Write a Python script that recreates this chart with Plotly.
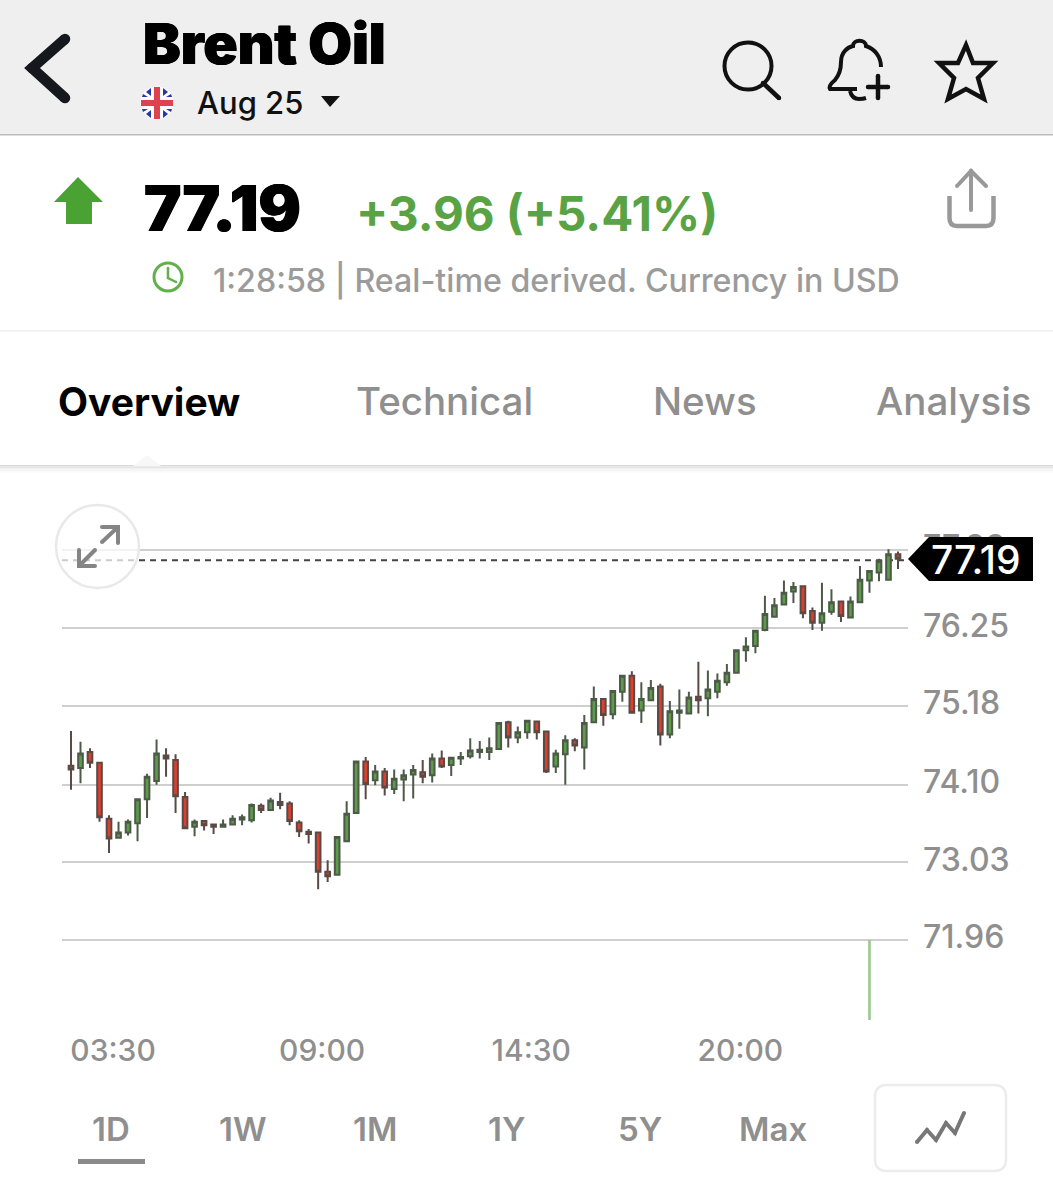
import pandas as pd
import plotly.graph_objects as go

W = 1053
H = 1200

# 15 minute candles
open_prices = [74.36,74.33,74.55,74.40,73.63,73.37,73.44,73.57,73.90,74.15,
  74.50,74.44,73.93,73.52,73.60,73.55,73.52,73.55,73.62,73.61,
  73.81,73.75,73.86,73.84,73.58,73.45,73.44,72.90,72.86,73.32,
  73.71,74.42,74.16,74.28,74.04,74.17,74.24,74.27,74.23,74.46,
  74.37,74.46,74.49,74.55,74.55,74.59,74.96,74.75,74.82,74.97,
  74.83,74.35,74.52,74.71,74.61,74.96,75.28,75.07,75.38,75.60,
  75.12,75.26,75.45,74.79,75.09,75.08,75.31,75.29,75.38,75.51,
  75.64,75.95,76.01,76.23,76.41,76.58,76.76,76.83,76.49,76.33,
  76.48,76.62,76.40,76.61,76.91,77.02,76.92,77.27]
high_prices = [74.84,74.69,74.60,74.40,73.68,73.59,73.62,73.91,74.25,74.72,
  74.60,74.52,74.00,73.62,73.60,73.56,73.62,73.68,73.69,73.84,
  73.84,73.92,73.99,73.87,73.61,73.49,73.44,73.06,73.38,73.87,
  74.43,74.48,74.37,74.33,74.31,74.31,74.37,74.44,74.53,74.57,
  74.47,74.55,74.74,74.70,74.75,74.95,74.98,74.90,74.99,74.98,
  74.83,74.58,74.78,74.74,75.06,75.45,75.29,75.40,75.61,75.66,
  75.51,75.54,75.49,75.25,75.41,75.38,75.79,75.67,75.63,75.76,
  75.96,76.13,76.23,76.70,76.67,76.91,76.89,76.83,76.54,76.88,
  76.79,76.63,76.69,77.11,77.05,77.21,77.34,77.31]
low_prices = [74.03,74.12,74.33,73.59,73.16,73.36,73.40,73.32,73.64,74.10,
  74.21,73.71,73.49,73.39,73.47,73.42,73.51,73.54,73.54,73.58,
  73.71,73.74,73.76,73.54,73.38,73.29,72.66,72.76,72.85,73.31,
  73.70,73.90,74.09,73.95,73.97,73.87,73.91,74.12,74.13,74.33,
  74.22,74.37,74.46,74.46,74.44,74.58,74.61,74.67,74.73,74.72,
  74.26,74.26,74.10,74.56,74.31,74.95,74.91,75.00,75.24,75.08,
  74.95,75.25,74.64,74.74,74.87,75.07,75.08,75.04,75.29,75.46,
  75.63,75.79,75.91,76.21,76.40,76.57,76.60,76.39,76.23,76.22,
  76.44,76.34,76.39,76.60,76.74,76.90,76.91,77.07]
close_prices = [74.31,74.53,74.40,73.65,73.36,73.44,73.59,73.90,74.21,74.53,
  74.46,73.94,73.50,73.59,73.54,73.52,73.55,73.63,73.65,73.82,
  73.75,73.88,73.82,73.60,73.46,73.42,72.90,72.84,73.38,73.70,
  74.42,74.11,74.28,74.06,74.18,74.23,74.30,74.21,74.46,74.35,
  74.47,74.48,74.57,74.58,74.60,74.95,74.75,74.82,74.98,74.82,
  74.28,74.53,74.71,74.64,74.95,75.28,75.06,75.39,75.60,75.09,
  75.28,75.43,74.79,75.11,75.12,75.30,75.26,75.41,75.53,75.64,
  75.95,76.00,76.22,76.45,76.57,76.74,76.82,76.46,76.33,76.46,
  76.61,76.42,76.62,76.92,77.04,77.18,77.27,77.21]
times = pd.date_range("2025-06-12 02:30", periods=len(open_prices), freq="15min")

volume_times = ["2025-06-12 23:30"]
volume_values = [1]

price_ticks = [71.96, 73.03, 74.10, 75.18, 76.25, 77.33]
price_labels = ["71.96", "73.03", "74.10", "75.18", "76.25", "77.33"]
time_ticks = ["2025-06-12 03:30", "2025-06-12 09:00", "2025-06-12 14:30", "2025-06-12 20:00"]
time_labels = ["03:30", "09:00", "14:30", "20:00"]
last_price = 77.19
range_labels = ["1D", "1W", "1M", "1Y", "5Y", "Max"]
range_centers = [111, 243, 375, 507, 640, 773]
tab_labels = ["Overview", "Technical", "News", "Analysis"]
tab_lefts = [58, 356, 653, 876]

FONT = "Inter"
GRAY = "#8f8f8f"
DARK = "#111111"
GREEN = "#5aa344"
HEAVY = "0.6px 0 0 #000, -0.6px 0 0 #000"

def px(x):
  return x / W

def py(y):
  return 1 - y / H

shapes = []
annotations = []

def path(points, close=False, line=None, width=0, fill=None, layer="above"):
  d = "M " + " L ".join(f"{px(x):.5f},{py(y):.5f}" for x, y in points)
  if close:
    d += " Z"
  add_path(d, line, width, fill, layer)

def add_path(d, line=None, width=0, fill=None, layer="above"):
  shapes.append(dict(type="path", path=d, xref="paper", yref="paper", layer=layer,
    line=dict(color=line or "rgba(0,0,0,0)", width=width),
    fillcolor=fill or "rgba(0,0,0,0)"))

def curve(text, line, width):
  # text is an svg path in screen pixels, x y pairs separated by spaces
  out = []
  nums = []
  for tok in text.split():
    if tok.isalpha():
      out.append(tok)
    else:
      nums.append(float(tok))
      if len(nums) == 2:
        out.append(f"{px(nums[0]):.5f},{py(nums[1]):.5f}")
        nums = []
  add_path(" ".join(out), line, width)

def circle(cx, cy, r, line=None, width=0, fill=None):
  shapes.append(dict(type="circle", xref="paper", yref="paper", layer="above",
    x0=px(cx - r), x1=px(cx + r), y0=py(cy + r), y1=py(cy - r),
    line=dict(color=line or "rgba(0,0,0,0)", width=width),
    fillcolor=fill or "rgba(0,0,0,0)"))

def rect(x0, y0, x1, y1, fill, layer="above", opacity=1):
  shapes.append(dict(type="rect", xref="paper", yref="paper", layer=layer, opacity=opacity,
    x0=px(x0), x1=px(x1), y0=py(y1), y1=py(y0), line=dict(width=0), fillcolor=fill))

def stroke(points, width, color):
  # round line ends, shapes only have butt caps
  path(points, line=color, width=width)
  for x, y in points:
    circle(x, y, width / 2, fill=color)

def label(x, y, text, size, color, weight=400, anchor="left", shadow=None):
  font = dict(family=FONT, size=size, color=color, weight=weight)
  if shadow:
    font["shadow"] = shadow
  annotations.append(dict(x=px(x), y=py(y), xref="paper", yref="paper", text=text, showarrow=False,
    xanchor=anchor, yanchor="middle", borderpad=0, borderwidth=0, font=font))

# page background bands
rect(0, 0, W, 134, "#efefef", "below")
rect(0, 134, W, 135.5, "#bdbdbd", "below")
rect(0, 330, W, 331.5, "#efefef", "below")
for i, c in enumerate(["#d9d9d9", "#e6e6e6", "#efefef", "#f5f5f5", "#fafafa"]):
  rect(0, 465 + i * 1.5, W, 466.5 + i * 1.5, c, "below")
path([(133, 466), (147, 455), (161, 466)], close=True, fill="#f7f7f7", layer="below")

# header
stroke([(65, 39), (32, 68), (65, 98)], 10.5, "#15181c")
label(143, 44, "Brent Oil", 56.5, "#000000", 900, shadow=HEAVY)
circle(157, 103, 16.5, fill="#ffffff")
for tri in [[(151, 88), (151, 96), (146, 92)], [(163, 88), (163, 96), (168, 92)],
            [(151, 118), (151, 110), (146, 114)], [(163, 118), (163, 110), (168, 114)],
            [(142, 97), (148, 97), (143, 94)], [(172, 97), (166, 97), (171, 94)],
            [(142, 109), (148, 109), (143, 112)], [(172, 109), (166, 109), (171, 112)]]:
  path(tri, close=True, fill="#2a35a8")
rect(141, 100, 173, 106, "#e0414f")
rect(154, 87, 160, 119, "#e0414f")
label(197, 103, "Aug 25", 31, DARK, 500)
path([(321, 96), (340, 96), (330, 107)], close=True, fill=DARK)

circle(748, 66, 23.5, line=DARK, width=4)
stroke([(763, 83), (779, 98)], 4.5, DARK)
curve("M 857 89 L 830 89 Q 828 86 835 80 Q 841 73 841 62 C 841 52 848 47 853 46 "
      "C 853 39 866 39 866 46 C 875 49 881 57 881 67", DARK, 4)
curve("M 850 91 Q 852 99 859 99 Q 863 99 866 98", DARK, 4)
stroke([(868, 87), (888, 87)], 4.5, DARK)
stroke([(878, 76), (878, 98)], 4.5, DARK)
path([(966, 45), (973, 63), (993, 63), (978, 78), (984, 99), (966, 89),
      (948, 99), (954, 78), (939, 63), (958, 63)], close=True, line=DARK, width=4.5)

# quote line
path([(78, 177), (103, 202), (92, 202), (92, 224), (66, 224), (66, 202), (54, 202)],
     close=True, fill="#4aa232")
label(144, 208, "77.19", 63, "#000000", 900, shadow=HEAVY)
label(356, 213, "+3.96 (+5.41%)", 47.5, GREEN, 700)
circle(168, 277, 14, line="#62b04c", width=3)
stroke([(168, 268), (168, 278), (176, 282)], 2.5, "#62b04c")
label(213, 280, "1:28:58 | Real-time derived. Currency in USD", 32.2, "#9b9b9b", 500)
stroke([(971, 171), (971, 210)], 4, "#999999")
stroke([(957, 186), (971, 171), (986, 186)], 4, "#999999")
curve("M 949.5 196 L 949.5 218 Q 949.5 226 957 226 L 986 226 Q 993.5 226 993.5 218 L 993.5 196", "#999999", 4.5)

# tabs
for i, (name, left) in enumerate(zip(tab_labels, tab_lefts)):
  label(left, 401, name, 39 if i == 0 else 38.5, "#000000" if i == 0 else GRAY, 700 if i == 0 else 500)
for i in range(6):
  rect(1010 + i * 4, 380, W, 425, "#ffffff", opacity=0.3)

# expand button sits over the grid lines
circle(97.5, 546.5, 41.5, line="#e9e9e9", width=2.5, fill="rgba(255,255,255,0.72)")
stroke([(102, 542), (118, 527)], 4, "#858585")
stroke([(102, 527), (118, 527), (118, 543)], 4, "#858585")
stroke([(95, 550), (79, 566)], 4, "#858585")
stroke([(79, 550), (79, 566), (95, 566)], 4, "#858585")

# last price
shapes.append(dict(type="line", xref="paper", yref="y", layer="between",
  x0=px(62), x1=px(908), y0=last_price, y1=last_price,
  line=dict(color="#444444", width=2, dash="6px 5px")))
path([(908, 559), (929, 537), (1033, 537), (1033, 581), (929, 581)], close=True, fill="#000000")
label(976, 559, "77.19", 39, "#ffffff", 500, "center")

# range buttons
for name, center in zip(range_labels, range_centers):
  label(center, 1129, name, 33, GRAY, 600, "center")
rect(78, 1159, 145, 1164, "#8a8a8a")
curve("M 887 1085 L 994 1085 Q 1006 1085 1006 1097 L 1006 1159 Q 1006 1171 994 1171 "
      "L 887 1171 Q 875 1171 875 1159 L 875 1097 Q 875 1085 887 1085", "#ececec", 2.5)
stroke([(917, 1142), (927, 1130), (936, 1140), (946, 1123), (955, 1133), (964, 1113)], 4, "#777777")

fig = go.Figure()
fig.add_trace(go.Candlestick(x=times, open=open_prices, high=high_prices, low=low_prices, close=close_prices,
  increasing=dict(line=dict(color="#4d5a48", width=2), fillcolor="#5b9b4a"),
  decreasing=dict(line=dict(color="#5a4a46", width=2), fillcolor="#dc3f2c"),
  whiskerwidth=0, hoverinfo="skip", showlegend=False))
fig.add_trace(go.Bar(x=volume_times, y=volume_values, yaxis="y2", width=[250000],
  marker=dict(color="#9cc890", line=dict(width=0)), hoverinfo="skip", showlegend=False))

fig.update_layout(
  width=W, height=H,
  margin=dict(l=0, r=0, t=0, b=0),
  paper_bgcolor="white", plot_bgcolor="rgba(0,0,0,0)",
  showlegend=False,
  shapes=shapes, annotations=annotations,
  xaxis=dict(type="date", domain=[px(62), px(908)], anchor="y",
    range=["2025-06-12 02:15:48", "2025-06-13 00:30:47"],
    rangeslider=dict(visible=False), showgrid=False, zeroline=False, showline=False,
    tickmode="array", tickvals=time_ticks, ticktext=time_labels, ticks="", ticklabelstandoff=10, ticklabelshift=4,
    tickfont=dict(family=FONT, size=30, color=GRAY, weight=500)),
  yaxis=dict(domain=[py(1020), py(520)], range=[70.86, 77.743], side="right", anchor="x",
    showgrid=True, gridcolor="#cfcfcf", gridwidth=1.5, zeroline=False, showline=False,
    tickmode="array", tickvals=price_ticks, ticktext=price_labels, ticks="", ticklabelstandoff=14, ticklabelshift=-3,
    tickfont=dict(family=FONT, size=32, color=GRAY, weight=500)),
  yaxis2=dict(domain=[py(1020), py(940)], range=[0, 1], visible=False, anchor="x"),
)

fig.write_html("out.html", config=dict(displayModeBar=False),
  post_script="document.body.style.margin='0';")
